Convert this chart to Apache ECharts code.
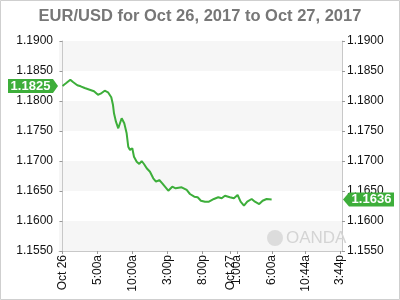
<!DOCTYPE html>
<html>
<head>
<meta charset="utf-8">
<script src="https://cdn.jsdelivr.net/npm/echarts@6/dist/echarts.min.js"></script>
<style>
html,body{margin:0;padding:0;background:#fff;}
#chart{width:400px;height:300px;}
</style>
</head>
<body>
<div id="chart"></div>
<script>
// Hours since Oct 26, 2017 00:00
const hours = [0, 0.54, 1.12, 1.50, 2.12, 2.60, 3.18, 3.89, 4.51, 5.08, 5.46, 6.04, 6.51, 6.98, 7.22, 7.37, 7.65, 7.98, 8.47, 8.84,
  9.18, 9.41, 9.66, 9.99, 10.23, 10.62, 10.99, 11.33, 11.66, 12.05, 12.52, 12.99, 13.38, 13.85, 14.28, 15.14, 15.71, 16.19, 17.05, 17.77,
  18.24, 18.86, 19.34, 19.81, 20.39, 20.96, 21.67, 22.29, 22.78, 23.25, 23.96, 24.53, 25.06, 25.49, 25.97, 26.44, 27.07, 27.54, 28.15, 28.64,
  29.21, 29.93];
const prices = [1.1825, 1.18300, 1.18355, 1.18317, 1.18262, 1.18245, 1.18217, 1.18188, 1.18162, 1.18105, 1.18122, 1.18172, 1.18145, 1.18062, 1.17938, 1.17795, 1.17655, 1.17545, 1.17712, 1.17628,
  1.17462, 1.17238, 1.17183, 1.17212, 1.17072, 1.16988, 1.16950, 1.17000, 1.16950, 1.16878, 1.16822, 1.16712, 1.16655, 1.16683, 1.16628, 1.16505, 1.16572, 1.16545, 1.16562, 1.16517,
  1.16450, 1.16405, 1.16395, 1.16338, 1.16322, 1.16322, 1.16367, 1.16395, 1.16378, 1.16422, 1.16395, 1.16378, 1.16433, 1.16322, 1.16255, 1.16322, 1.16367, 1.16322, 1.16283, 1.16338,
  1.16367, 1.1636];
const xTickHours = [0, 5, 10, 15, 20, 24, 25, 30, 34.733, 39.733];
const xTickLabels = ['Oct 26', '5:00a', '10:00a', '3:00p', '8:00p', 'Oct 27', '1:00a', '6:00a', '10:44a', '3:44p'];
const yMin = 1.155, yMax = 1.19, yStep = 0.005;
const startTag = 1.1825, endTag = 1.1636;
const titleText = 'EUR/USD for Oct 26, 2017 to Oct 27, 2017';

const GREEN = '#3dae3a';
const FONT = '"Liberation Sans", Arial, sans-serif';
const chart = echarts.init(document.getElementById('chart'), null, {renderer: 'canvas'});

const yAxisBase = {
  type: 'value', min: yMin, max: yMax, interval: yStep,
  splitLine: {show: false},
  axisLine: {show: true, lineStyle: {color: '#c8c8c8', width: 1}},
  axisTick: {show: true, length: 3, lineStyle: {color: '#999'}},
  axisLabel: {color: '#111', fontSize: 12, fontFamily: FONT, formatter: v => v.toFixed(4)}
};

chart.setOption({
  animation: false,
  title: {text: titleText, left: 'center', top: 3,
    textStyle: {color: '#777', fontSize: 16.5, fontWeight: 'bold', fontFamily: FONT}},
  grid: {left: 59, right: 58, top: 41, bottom: 49},
  xAxis: {
    type: 'value', min: -0.5, max: 40,
    splitLine: {show: false},
    axisLine: {show: true, lineStyle: {color: '#c8c8c8'}},
    axisTick: {show: true, length: 3, customValues: xTickHours, lineStyle: {color: '#999'}},
    axisLabel: {customValues: xTickHours, rotate: 90, margin: 4, color: '#111', fontSize: 12, fontFamily: FONT,
      formatter: v => { const i = xTickHours.findIndex(t => Math.abs(t - v) < 1e-6); return i >= 0 ? xTickLabels[i] : ''; }}
  },
  yAxis: [
    Object.assign({}, yAxisBase, {position: 'left', axisLabel: Object.assign({}, yAxisBase.axisLabel, {margin: 6}),
      splitArea: {show: true, areaStyle: {color: ['#f6f6f6', '#ffffff']}}}),
    Object.assign({}, yAxisBase, {position: 'right', axisLabel: Object.assign({}, yAxisBase.axisLabel, {margin: 5}),
      splitArea: {show: false}})
  ],
  series: [{
    type: 'line', showSymbol: false, symbol: 'none',
    data: hours.map((h, i) => [h, prices[i]]),
    lineStyle: {color: GREEN, width: 2},
    z: 5
  }]
});

function addTags() {
  const yl = chart.convertToPixel({yAxisIndex: 0}, startTag);
  const yr = chart.convertToPixel({yAxisIndex: 1}, endTag);
  const xl = chart.convertToPixel({xAxisIndex: 0}, -0.5);
  const xr = chart.convertToPixel({xAxisIndex: 0}, 40);
  const h = 7;
  chart.setOption({graphic: [
    {type: 'rect', shape: {x: 0.5, y: 0.5, width: 399, height: 299}, style: {fill: 'none', stroke: '#cfcfcf', lineWidth: 1}, silent: true, z: 0},
    {type: 'polygon', shape: {points: [[8, yl - h], [xl - 6, yl - h], [xl - 1, yl], [xl - 6, yl + h], [8, yl + h]]}, style: {fill: GREEN}, z: 10},
    {type: 'text', x: (8 + xl - 6) / 2, y: yl, style: {text: startTag.toFixed(4), fill: '#fff', font: 'bold 13px ' + FONT, align: 'center', verticalAlign: 'middle'}, z: 11},
    {type: 'polygon', shape: {points: [[xr + 1, yr], [xr + 7, yr - h], [394, yr - h], [394, yr + h], [xr + 7, yr + h]]}, style: {fill: GREEN}, z: 10},
    {type: 'text', x: (xr + 7 + 394) / 2, y: yr, style: {text: endTag.toFixed(4), fill: '#fff', font: 'bold 13px ' + FONT, align: 'center', verticalAlign: 'middle'}, z: 11},
    {type: 'circle', shape: {cx: 275, cy: 238, r: 8}, style: {fill: '#dcdcdc'}, z: 1},
    {type: 'text', x: 286, y: 238, style: {text: 'OANDA', fill: '#d4d4d4', font: '17px ' + FONT, verticalAlign: 'middle'}, z: 1}
  ]});
}
addTags();
</script>
</body>
</html>
